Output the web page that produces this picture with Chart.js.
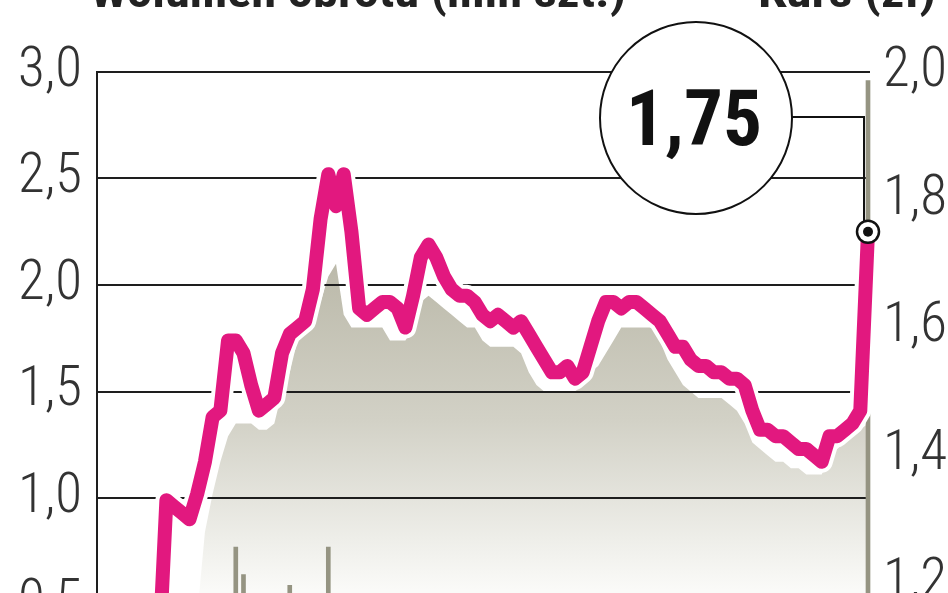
<!DOCTYPE html>
<html>
<head>
<meta charset="utf-8">
<script src="https://cdn.jsdelivr.net/npm/chart.js@4.4.1/dist/chart.umd.min.js"></script>
<style>
  html, body { margin: 0; padding: 0; background: #fff; overflow: hidden; }
  #wrap { width: 948px; height: 760px; position: relative; }
</style>
</head>
<body>
<div id="wrap"><canvas id="kurs"></canvas></div>
<script>
// kurs (zł) - dzienne notowania
const price = [null, null, null, null, null, null, null, null,
  1.08, 1.33, 1.32, 1.31, 1.30, 1.34, 1.39, 1.46, 1.47, 1.58,
  1.58, 1.56, 1.51, 1.47, 1.48, 1.49, 1.56, 1.59, 1.60, 1.61,
  1.66, 1.77, 1.84, 1.79, 1.84, 1.75, 1.63, 1.62, 1.63, 1.64,
  1.64, 1.63, 1.60, 1.65, 1.71, 1.73, 1.71, 1.68, 1.66, 1.65,
  1.65, 1.64, 1.62, 1.61, 1.62, 1.61, 1.60, 1.61, 1.59, 1.57,
  1.55, 1.53, 1.53, 1.54, 1.52, 1.53, 1.57, 1.61, 1.64, 1.64,
  1.63, 1.64, 1.64, 1.63, 1.62, 1.61, 1.59, 1.57, 1.57, 1.55,
  1.54, 1.54, 1.53, 1.53, 1.52, 1.52, 1.51, 1.47, 1.44, 1.44,
  1.43, 1.43, 1.42, 1.41, 1.41, 1.40, 1.39, 1.43, 1.43, 1.44,
  1.45, 1.47, 1.75];

// szare tło pod linią kursu
const shadow = [null, null, null, null, null, null, null, null,
  null, null, null, null, null, 1.15, 1.28, 1.34, 1.39, 1.43,
  1.45, 1.45, 1.45, 1.44, 1.44, 1.45, 1.50, 1.53, 1.58, 1.60,
  1.62, 1.64, 1.68, 1.70, 1.62, 1.60, 1.60, 1.60, 1.60, 1.60,
  1.58, 1.58, 1.58, 1.60, 1.64, 1.65, 1.64, 1.63, 1.62, 1.61,
  1.60, 1.60, 1.58, 1.57, 1.57, 1.57, 1.57, 1.56, 1.53, 1.51,
  1.50, 1.50, 1.50, 1.50, 1.50, 1.51, 1.53, 1.54, 1.56, 1.58,
  1.60, 1.60, 1.60, 1.60, 1.60, 1.58, 1.55, 1.53, 1.51, 1.50,
  1.49, 1.49, 1.49, 1.49, 1.48, 1.47, 1.45, 1.42, 1.41, 1.40,
  1.39, 1.39, 1.38, 1.38, 1.37, 1.37, 1.37, 1.40, 1.41, 1.42,
  1.43, 1.44, 1.45];

// wolumen obrotu (mln szt.)
const volume = [null, null, null, null, null, null, null, null,
  0.32, 0.41, 0.28, 0.22, 0.35, 0.30, 0.26, 0.44, 0.38, 0.31,
  0.77, 0.64, 0.40, 0.29, 0.33, 0.27, 0.36, 0.59, 0.42, 0.34,
  0.39, 0.48, 0.77, 0.52, 0.45, 0.38, 0.30, 0.25, 0.22, 0.27,
  0.20, 0.24, 0.31, 0.28, 0.35, 0.30, 0.24, 0.21, 0.19, 0.23,
  0.18, 0.20, 0.22, 0.17, 0.19, 0.16, 0.18, 0.21, 0.15, 0.17,
  0.20, 0.14, 0.16, 0.13, 0.15, 0.18, 0.22, 0.26, 0.24, 0.19,
  0.17, 0.15, 0.16, 0.14, 0.13, 0.15, 0.17, 0.14, 0.12, 0.13,
  0.15, 0.11, 0.12, 0.10, 0.13, 0.12, 0.14, 0.16, 0.13, 0.11,
  0.12, 0.10, 0.11, 0.13, 0.12, 0.10, 0.14, 0.15, 0.12, 0.13,
  0.16, 0.22, 2.96];

const days = price.map((_, i) => i);

const volTicks = [0, 0.5, 1.0, 1.5, 2.0, 2.5, 3.0];
const lastPrice = '1,75';
const titleLeft = 'Wolumen obrotu (mln szt.)';
const titleRight = 'Kurs (zł)';

const pink = '#e2187f';
const condensed = "'Roboto Condensed', 'Liberation Sans Narrow', sans-serif";
const labelFont = { family: condensed, size: 55, weight: '300' };
const fmt = v => Number(v).toFixed(1).replace('.', ',');

// linie siatki rysowane nad szarym tłem, pod linią kursu
const gridPlugin = {
  id: 'gridOverShadow',
  afterDatasetDraw(chart, args) {
    if (args.index !== 0) return;
    const { ctx, chartArea } = chart;
    const yL = chart.scales.yL;
    ctx.save();
    ctx.strokeStyle = '#1e1e1e';
    ctx.lineWidth = 2;
    volTicks.forEach(v => {
      if (v === 0) return;
      const y = Math.round(yL.getPixelForValue(v));
      ctx.beginPath();
      ctx.moveTo(chartArea.left, y);
      ctx.lineTo(chartArea.right + 2, y);
      ctx.stroke();
    });
    ctx.restore();
  }
};

// tekst wpasowany w zadaną szerokość i wysokość
function boxText(ctx, text, font, x, yBase, width, capH) {
  ctx.font = font;
  const m = ctx.measureText(text);
  const h = m.actualBoundingBoxAscent;
  ctx.save();
  ctx.translate(x, yBase);
  ctx.scale(width / m.width, capH / h);
  ctx.fillText(text, 0, 0);
  ctx.restore();
}

const callout = {
  id: 'callout',
  afterDraw(chart) {
    const { ctx } = chart;
    ctx.save();

    // tytuły osi (ucięte u góry)
    ctx.fillStyle = '#222';
    ctx.textBaseline = 'alphabetic';
    ctx.textAlign = 'left';
    boxText(ctx, titleLeft, 'bold 48px ' + condensed, 90, 7, 536, 36);
    boxText(ctx, titleRight, 'bold 48px ' + condensed, 758, 7, 178, 36);

    // punkt końcowy i odnośnik
    const meta = chart.getDatasetMeta(3);
    const pt = meta.data[meta.data.length - 1];
    const cx = 696, cy = 118, r = 96;
    ctx.strokeStyle = '#111';
    ctx.lineWidth = 2;
    ctx.beginPath();
    ctx.moveTo(cx + r, cy - 1);
    ctx.lineTo(pt.x - 4, cy - 1);
    ctx.lineTo(pt.x - 4, pt.y - 10);
    ctx.stroke();

    ctx.beginPath();
    ctx.arc(cx, cy, r, 0, Math.PI * 2);
    ctx.fillStyle = '#fff';
    ctx.fill();
    ctx.stroke();

    ctx.fillStyle = '#111';
    boxText(ctx, lastPrice, 'bold 80px ' + condensed, 626, 145, 136, 57);

    ctx.beginPath();
    ctx.arc(pt.x, pt.y, 11, 0, Math.PI * 2);
    ctx.fillStyle = '#fff';
    ctx.fill();
    ctx.lineWidth = 2.5;
    ctx.stroke();
    ctx.beginPath();
    ctx.arc(pt.x, pt.y, 5, 0, Math.PI * 2);
    ctx.fillStyle = '#111';
    ctx.fill();
    ctx.restore();
  }
};

new Chart(document.getElementById('kurs'), {
  type: 'line',
  data: {
    labels: days,
    datasets: [
      {
        label: 'tło',
        data: shadow,
        yAxisID: 'yR',
        order: 4,
        fill: 'start',
        borderWidth: 0,
        pointRadius: 0,
        tension: 0,
        clip: false,
        backgroundColor(c) {
          const a = c.chart.chartArea;
          if (!a) return '#ccc';
          const g = c.chart.ctx.createLinearGradient(0, 250, 0, 590);
          g.addColorStop(0, '#b9b7a7');
          g.addColorStop(0.5, '#d2d1c6');
          g.addColorStop(0.85, '#eeeee9');
          g.addColorStop(1, '#fafaf8');
          return g;
        }
      },
      {
        type: 'bar',
        label: 'Wolumen obrotu (mln szt.)',
        data: volume,
        yAxisID: 'yL',
        order: 3,
        backgroundColor: '#959482',
        barThickness: 4,
        clip: false
      },
      {
        label: 'obwódka',
        data: price,
        yAxisID: 'yR',
        order: 2,
        borderColor: '#ffffff',
        borderWidth: 22,
        borderJoinStyle: 'round',
        borderCapStyle: 'round',
        pointRadius: 0,
        tension: 0,
        clip: false
      },
      {
        label: 'Kurs (zł)',
        data: price,
        yAxisID: 'yR',
        order: 1,
        borderColor: pink,
        borderWidth: 14,
        borderJoinStyle: 'round',
        borderCapStyle: 'round',
        pointRadius: 0,
        tension: 0,
        clip: false
      }
    ]
  },
  plugins: [gridPlugin, callout],
  options: {
    responsive: true,
    maintainAspectRatio: false,
    devicePixelRatio: 1,
    animation: false,
    layout: { padding: { top: 72, bottom: 49, left: 0, right: 0 } },
    plugins: { legend: { display: false }, tooltip: { enabled: false } },
    scales: {
      x: { type: 'category', display: false, offset: false, grid: { display: false } },
      yL: {
        position: 'left',
        min: 0, max: 3,
        grid: { display: false, drawTicks: false },
        border: { display: true, color: '#1e1e1e', width: 2 },
        ticks: { stepSize: 0.5, padding: 15, color: '#333', font: labelFont, callback: fmt },
        afterFit(s) { s.width = 97; }
      },
      yR: {
        position: 'right',
        min: 1, max: 2,
        grid: { display: false, drawTicks: false },
        border: { display: false },
        ticks: { stepSize: 0.2, padding: 15, color: '#333', font: labelFont, callback: fmt },
        afterFit(s) { s.width = 80; }
      }
    }
  }
});
</script>
</body>
</html>
